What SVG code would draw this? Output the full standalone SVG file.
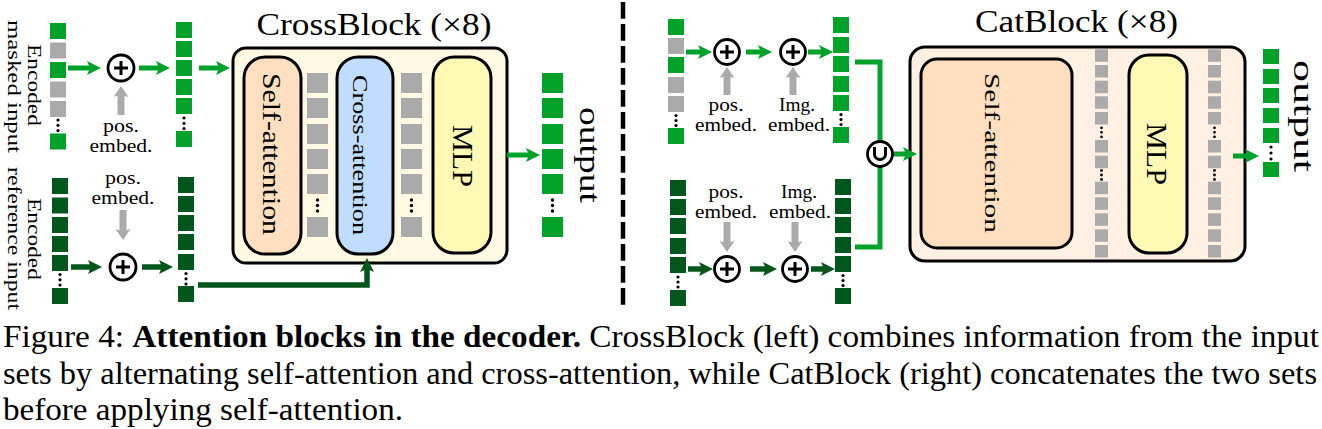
<svg xmlns="http://www.w3.org/2000/svg" width="1322" height="429" viewBox="0 0 1322 429">
<defs>
<style>
.g{fill:#00a22a}.dg{fill:#00561b}.gr{fill:#aaaaaa}.d{fill:#000}
.t{font-family:"Liberation Serif","Times New Roman",serif;fill:#000}
.s{font-size:18px;text-anchor:middle}
.box{stroke:#000;stroke-width:3}
.op{fill:#fff;stroke:#000;stroke-width:2.8}
.pl{stroke:#000;stroke-width:3;fill:none}
.cg{fill:none;stroke:#00a22a;stroke-width:5}
.cd{fill:none;stroke:#00561b;stroke-width:5.5}
.cgr{fill:none;stroke:#aaaaaa;stroke-width:7}
</style>
<marker id="ag" viewBox="0 0 14 14" markerUnits="userSpaceOnUse" markerWidth="14" markerHeight="14" refX="3" refY="7" orient="auto"><path d="M0,0 L14,7 L0,14 L3,7 Z" fill="#00a22a"/></marker>
<marker id="ad" viewBox="0 0 14 14" markerUnits="userSpaceOnUse" markerWidth="14" markerHeight="14" refX="3" refY="7" orient="auto"><path d="M0,0 L14,7 L0,14 L3,7 Z" fill="#00561b"/></marker>
<marker id="agr" viewBox="0 0 11 15" markerUnits="userSpaceOnUse" markerWidth="11" markerHeight="15" refX="2" refY="7.5" orient="auto"><path d="M0,0 L11,7.5 L0,15 L2,7.5 Z" fill="#aaaaaa"/></marker>
</defs>
<rect width="1322" height="429" fill="#fff"/>

<!-- divider -->
<line x1="623" y1="2" x2="623" y2="310" stroke="#000" stroke-width="4.5" stroke-dasharray="16.7 5.3"/>

<!-- LEFT: encoded masked input -->
<g id="masked-input">
<rect class="g" x="50" y="23" width="16" height="16"/>
<rect class="gr" x="50" y="42.5" width="16" height="16"/>
<rect class="g" x="50" y="62" width="16" height="16"/>
<rect class="gr" x="50" y="81.5" width="16" height="16"/>
<rect class="gr" x="50" y="101" width="16" height="16"/>
<circle class="d" cx="58" cy="120" r="1.6"/><circle class="d" cx="58" cy="125.3" r="1.6"/><circle class="d" cx="58" cy="130.6" r="1.6"/>
<rect class="g" x="50" y="133.5" width="16" height="16"/>
<text class="t" transform="translate(27.5,85) rotate(90)" font-size="18" text-anchor="middle" textLength="82" lengthAdjust="spacingAndGlyphs">Encoded</text>
<text class="t" transform="translate(7.5,86.5) rotate(90)" font-size="18" text-anchor="middle" textLength="133" lengthAdjust="spacingAndGlyphs">masked input</text>
</g>

<g id="masked-embedded">
<rect class="g" x="176" y="22" width="16" height="16"/>
<rect class="g" x="176" y="41" width="16" height="16"/>
<rect class="g" x="176" y="60" width="16" height="16"/>
<rect class="g" x="176" y="79" width="16" height="16"/>
<rect class="g" x="176" y="98" width="16" height="16"/>
<circle class="d" cx="184" cy="118" r="1.6"/><circle class="d" cx="184" cy="123.3" r="1.6"/><circle class="d" cx="184" cy="128.6" r="1.6"/>
<rect class="g" x="176" y="131" width="16" height="16"/>
</g>

<g id="pos-embed-1">
<text class="t s" x="121" y="132" textLength="36" lengthAdjust="spacingAndGlyphs">pos.</text>
<text class="t s" x="121" y="152" textLength="63" lengthAdjust="spacingAndGlyphs">embed.</text>
</g>

<!-- LEFT: encoded reference input -->
<g id="reference-input">
<rect class="dg" x="52" y="178" width="16" height="16"/>
<rect class="dg" x="52" y="197.5" width="16" height="16"/>
<rect class="dg" x="52" y="217" width="16" height="16"/>
<rect class="dg" x="52" y="236" width="16" height="16"/>
<rect class="dg" x="52" y="255" width="16" height="16"/>
<circle class="d" cx="60" cy="274.5" r="1.6"/><circle class="d" cx="60" cy="279.8" r="1.6"/><circle class="d" cx="60" cy="285" r="1.6"/>
<rect class="dg" x="52" y="288" width="16" height="16"/>
<text class="t" transform="translate(27.5,239) rotate(90)" font-size="18" text-anchor="middle" textLength="82" lengthAdjust="spacingAndGlyphs">Encoded</text>
<text class="t" transform="translate(7.5,238.5) rotate(90)" font-size="18" text-anchor="middle" textLength="143" lengthAdjust="spacingAndGlyphs">reference input</text>
</g>

<g id="reference-embedded">
<rect class="dg" x="178" y="177" width="16" height="16"/>
<rect class="dg" x="178" y="196" width="16" height="16"/>
<rect class="dg" x="178" y="215" width="16" height="16"/>
<rect class="dg" x="178" y="234" width="16" height="16"/>
<rect class="dg" x="178" y="254" width="16" height="16"/>
<circle class="d" cx="186" cy="273.5" r="1.6"/><circle class="d" cx="186" cy="278.8" r="1.6"/><circle class="d" cx="186" cy="284" r="1.6"/>
<rect class="dg" x="178" y="286" width="16" height="16"/>
</g>

<g id="pos-embed-2">
<text class="t s" x="123" y="184" textLength="36" lengthAdjust="spacingAndGlyphs">pos.</text>
<text class="t s" x="123" y="204" textLength="63" lengthAdjust="spacingAndGlyphs">embed.</text>
</g>

<!-- CrossBlock -->
<g id="crossblock">
<text class="t" x="374" y="35" font-size="32" text-anchor="middle" textLength="235" lengthAdjust="spacingAndGlyphs">CrossBlock (×8)</text>
<rect class="box" x="233" y="48" width="274" height="215" rx="13" fill="#fff9e3"/>
</g>
<g id="cb-self-attention">
<rect class="box" x="244" y="57" width="57" height="197" rx="21" fill="#ffdfbf"/>
<text class="t" transform="translate(263,154) rotate(90)" font-size="26" text-anchor="middle" textLength="162" lengthAdjust="spacingAndGlyphs">Self-attention</text>
</g>
<g id="cb-tokens-1">
<rect class="gr" x="307" y="73" width="21" height="20"/>
<rect class="gr" x="307" y="98" width="21" height="20"/>
<rect class="gr" x="307" y="124" width="21" height="20"/>
<rect class="gr" x="307" y="149" width="21" height="20"/>
<rect class="gr" x="307" y="174" width="21" height="20"/>
<circle class="d" cx="317.5" cy="200" r="1.7"/><circle class="d" cx="317.5" cy="205.5" r="1.7"/><circle class="d" cx="317.5" cy="211" r="1.7"/>
<rect class="gr" x="307" y="217" width="21" height="20"/>
</g>
<g id="cb-cross-attention">
<rect class="box" x="337" y="57" width="56" height="197" rx="21" fill="#c0ddff"/>
<text class="t" transform="translate(353,155) rotate(90)" font-size="22" text-anchor="middle" textLength="160" lengthAdjust="spacingAndGlyphs">Cross-attention</text>
</g>
<g id="cb-tokens-2">
<rect class="gr" x="401" y="73" width="21" height="20"/>
<rect class="gr" x="401" y="98" width="21" height="20"/>
<rect class="gr" x="401" y="124" width="21" height="20"/>
<rect class="gr" x="401" y="149" width="21" height="20"/>
<rect class="gr" x="401" y="174" width="21" height="20"/>
<circle class="d" cx="411.5" cy="200" r="1.7"/><circle class="d" cx="411.5" cy="205.5" r="1.7"/><circle class="d" cx="411.5" cy="211" r="1.7"/>
<rect class="gr" x="401" y="217" width="21" height="20"/>
</g>
<g id="cb-mlp">
<rect class="box" x="433" y="57" width="58" height="196" rx="21" fill="#fff9b5"/>
<text class="t" transform="translate(453,156) rotate(90)" font-size="30" text-anchor="middle" textLength="62" lengthAdjust="spacingAndGlyphs">MLP</text>
</g>
<g id="cb-output">
<rect class="g" x="542" y="73" width="21" height="20"/>
<rect class="g" x="542" y="98" width="21" height="20"/>
<rect class="g" x="542" y="124" width="21" height="20"/>
<rect class="g" x="542" y="149" width="21" height="20"/>
<rect class="g" x="542" y="174" width="21" height="20"/>
<circle class="d" cx="552.5" cy="200" r="1.7"/><circle class="d" cx="552.5" cy="205.5" r="1.7"/><circle class="d" cx="552.5" cy="211" r="1.7"/>
<rect class="g" x="542" y="217" width="21" height="20"/>
<text class="t" transform="translate(580,155) rotate(90)" font-size="30" text-anchor="middle" textLength="96" lengthAdjust="spacingAndGlyphs">output</text>
</g>

<!-- RIGHT -->
<g id="cat-masked-input">
<rect class="g" x="668" y="19" width="16" height="16"/>
<rect class="gr" x="668" y="38" width="16" height="16"/>
<rect class="g" x="668" y="57" width="16" height="16"/>
<rect class="gr" x="668" y="77" width="16" height="16"/>
<rect class="gr" x="668" y="96" width="16" height="16"/>
<circle class="d" cx="676" cy="115.5" r="1.6"/><circle class="d" cx="676" cy="120.5" r="1.6"/><circle class="d" cx="676" cy="125.5" r="1.6"/>
<rect class="g" x="668" y="128" width="16" height="16"/>
</g>
<g id="cat-masked-embedded">
<rect class="g" x="833" y="17" width="16" height="16"/>
<rect class="g" x="833" y="37" width="16" height="16"/>
<rect class="g" x="833" y="56" width="16" height="16"/>
<rect class="g" x="833" y="76" width="16" height="16"/>
<rect class="g" x="833" y="95" width="16" height="16"/>
<circle class="d" cx="841" cy="114.5" r="1.6"/><circle class="d" cx="841" cy="119.5" r="1.6"/><circle class="d" cx="841" cy="124.5" r="1.6"/>
<rect class="g" x="833" y="127" width="16" height="16"/>
</g>
<g id="cat-pos-embed-1">
<text class="t s" x="726" y="110.5" textLength="35" lengthAdjust="spacingAndGlyphs">pos.</text>
<text class="t s" x="726" y="130.5" textLength="62" lengthAdjust="spacingAndGlyphs">embed.</text>
</g>
<g id="cat-img-embed-1">
<text class="t s" x="797" y="110.5" textLength="36" lengthAdjust="spacingAndGlyphs">Img.</text>
<text class="t s" x="799" y="130.5" textLength="62" lengthAdjust="spacingAndGlyphs">embed.</text>
</g>
<g id="cat-reference-input">
<rect class="dg" x="670" y="180" width="16" height="16"/>
<rect class="dg" x="670" y="199" width="16" height="16"/>
<rect class="dg" x="670" y="218" width="16" height="16"/>
<rect class="dg" x="670" y="238" width="16" height="16"/>
<rect class="dg" x="670" y="257" width="16" height="16"/>
<circle class="d" cx="678" cy="277" r="1.6"/><circle class="d" cx="678" cy="282" r="1.6"/><circle class="d" cx="678" cy="287" r="1.6"/>
<rect class="dg" x="670" y="290" width="16" height="16"/>
</g>
<g id="cat-reference-embedded">
<rect class="dg" x="835" y="179" width="16" height="16"/>
<rect class="dg" x="835" y="198" width="16" height="16"/>
<rect class="dg" x="835" y="217" width="16" height="16"/>
<rect class="dg" x="835" y="237" width="16" height="16"/>
<rect class="dg" x="835" y="256" width="16" height="16"/>
<circle class="d" cx="843" cy="275.5" r="1.6"/><circle class="d" cx="843" cy="280.5" r="1.6"/><circle class="d" cx="843" cy="285.5" r="1.6"/>
<rect class="dg" x="835" y="288" width="16" height="16"/>
</g>
<g id="cat-pos-embed-2">
<text class="t s" x="726" y="198" textLength="35" lengthAdjust="spacingAndGlyphs">pos.</text>
<text class="t s" x="726" y="218" textLength="62" lengthAdjust="spacingAndGlyphs">embed.</text>
</g>
<g id="cat-img-embed-2">
<text class="t s" x="799" y="198" textLength="36" lengthAdjust="spacingAndGlyphs">Img.</text>
<text class="t s" x="800" y="218" textLength="62" lengthAdjust="spacingAndGlyphs">embed.</text>
</g>

<!-- CatBlock -->
<g id="catblock">
<text class="t" x="1076.5" y="32" font-size="32" text-anchor="middle" textLength="203" lengthAdjust="spacingAndGlyphs">CatBlock (×8)</text>
<rect class="box" x="910" y="47" width="335" height="214" rx="15" fill="#fff0e3"/>
</g>
<g id="cat-self-attention">
<rect class="box" x="921" y="59" width="151" height="189" rx="16" fill="#ffdfbf"/>
<text class="t" transform="translate(985,153) rotate(90)" font-size="22" text-anchor="middle" textLength="160" lengthAdjust="spacingAndGlyphs">Self-attention</text>
</g>
<g id="cat-tokens-1">
<rect class="gr" x="1095" y="49.3" width="13" height="12.5"/>
<rect class="gr" x="1095" y="65" width="13" height="12.5"/>
<rect class="gr" x="1095" y="80.7" width="13" height="12.5"/>
<rect class="gr" x="1095" y="96.3" width="13" height="12.5"/>
<rect class="gr" x="1095" y="112" width="13" height="12.5"/>
<circle class="d" cx="1101.5" cy="127.8" r="1.4"/><circle class="d" cx="1101.5" cy="132.3" r="1.4"/><circle class="d" cx="1101.5" cy="136.8" r="1.4"/>
<rect class="gr" x="1095" y="140" width="13" height="12.5"/>
<rect class="gr" x="1095" y="155.7" width="13" height="12.5"/>
<circle class="d" cx="1101.5" cy="170.5" r="1.4"/><circle class="d" cx="1101.5" cy="175" r="1.4"/><circle class="d" cx="1101.5" cy="179.5" r="1.4"/>
<rect class="gr" x="1095" y="181.7" width="13" height="12.5"/>
<rect class="gr" x="1095" y="197.3" width="13" height="12.5"/>
<rect class="gr" x="1095" y="213.3" width="13" height="12.5"/>
<rect class="gr" x="1095" y="229.3" width="13" height="12.5"/>
<rect class="gr" x="1095" y="245" width="13" height="12.5"/>
</g>
<g id="cat-mlp">
<rect class="box" x="1129" y="55" width="58" height="198" rx="20" fill="#fff9b5"/>
<text class="t" transform="translate(1147,154) rotate(90)" font-size="30" text-anchor="middle" textLength="62" lengthAdjust="spacingAndGlyphs">MLP</text>
</g>
<g id="cat-tokens-2">
<rect class="gr" x="1208" y="49.3" width="13" height="12.5"/>
<rect class="gr" x="1208" y="65" width="13" height="12.5"/>
<rect class="gr" x="1208" y="80.7" width="13" height="12.5"/>
<rect class="gr" x="1208" y="96.3" width="13" height="12.5"/>
<rect class="gr" x="1208" y="112" width="13" height="12.5"/>
<circle class="d" cx="1214.5" cy="127.8" r="1.4"/><circle class="d" cx="1214.5" cy="132.3" r="1.4"/><circle class="d" cx="1214.5" cy="136.8" r="1.4"/>
<rect class="gr" x="1208" y="140" width="13" height="12.5"/>
<rect class="gr" x="1208" y="155.7" width="13" height="12.5"/>
<circle class="d" cx="1214.5" cy="170.5" r="1.4"/><circle class="d" cx="1214.5" cy="175" r="1.4"/><circle class="d" cx="1214.5" cy="179.5" r="1.4"/>
<rect class="gr" x="1208" y="181.7" width="13" height="12.5"/>
<rect class="gr" x="1208" y="197.3" width="13" height="12.5"/>
<rect class="gr" x="1208" y="213.3" width="13" height="12.5"/>
<rect class="gr" x="1208" y="229.3" width="13" height="12.5"/>
<rect class="gr" x="1208" y="245" width="13" height="12.5"/>
</g>
<g id="cat-output">
<rect class="g" x="1263" y="49" width="16" height="15"/>
<rect class="g" x="1263" y="69" width="16" height="15"/>
<rect class="g" x="1263" y="88" width="16" height="15"/>
<rect class="g" x="1263" y="108" width="16" height="15"/>
<rect class="g" x="1263" y="128" width="16" height="15"/>
<circle class="d" cx="1271" cy="147" r="1.6"/><circle class="d" cx="1271" cy="153" r="1.6"/><circle class="d" cx="1271" cy="159" r="1.6"/>
<rect class="g" x="1263" y="162" width="16" height="15"/>
<text class="t" transform="translate(1294,116) rotate(90)" font-size="30" text-anchor="middle" textLength="112" lengthAdjust="spacingAndGlyphs">output</text>
</g>

<!-- connectors -->
<g id="connectors">
<path class="cg" d="M68,68 H90" marker-end="url(#ag)"/>
<path class="cg" d="M139,68 H159" marker-end="url(#ag)"/>
<path class="cg" d="M199,68 H219" marker-end="url(#ag)"/>
<path class="cgr" d="M121,115 V95" marker-end="url(#agr)"/>
<path class="cd" d="M71,267 H91" marker-end="url(#ad)"/>
<path class="cd" d="M142,267 H162" marker-end="url(#ad)"/>
<path class="cgr" d="M123,210 V231" marker-end="url(#agr)"/>
<path class="cd" d="M198,285 H367 V269" marker-end="url(#ad)"/>
<path class="cg" d="M507,155 H529" marker-end="url(#ag)"/>
<path class="cg" d="M686,52 H701" marker-end="url(#ag)"/>
<path class="cg" d="M746,52 H761" marker-end="url(#ag)"/>
<path class="cg" d="M808,52 H822" marker-end="url(#ag)"/>
<path class="cgr" d="M727,95 V76" marker-end="url(#agr)"/>
<path class="cgr" d="M793,95 V76" marker-end="url(#agr)"/>
<path class="cd" d="M688,269 H702" marker-end="url(#ad)"/>
<path class="cd" d="M750,269 H766" marker-end="url(#ad)"/>
<path class="cd" d="M811,269 H824" marker-end="url(#ad)"/>
<path class="cgr" d="M727,222 V243" marker-end="url(#agr)"/>
<path class="cgr" d="M795,222 V243" marker-end="url(#agr)"/>
<path class="cg" d="M855,62 H880 V247 H855"/>
<path class="cg" d="M893,154 H906" marker-end="url(#ag)"/>
<path class="cg" d="M1233,156 H1248" marker-end="url(#ag)"/>
</g>

<!-- operators -->
<g id="add-1"><circle class="op" cx="121" cy="68" r="13"/><path class="pl" d="M114,68 H128 M121,61 V75"/></g>
<g id="add-2"><circle class="op" cx="123" cy="267" r="13"/><path class="pl" d="M116,267 H130 M123,260 V274"/></g>
<g id="add-3"><circle class="op" cx="727" cy="52" r="12.5"/><path class="pl" d="M720,52 H734 M727,45 V59"/></g>
<g id="add-4"><circle class="op" cx="793" cy="52" r="12.5"/><path class="pl" d="M786,52 H800 M793,45 V59"/></g>
<g id="add-5"><circle class="op" cx="727" cy="269" r="12.5"/><path class="pl" d="M720,269 H734 M727,262 V276"/></g>
<g id="add-6"><circle class="op" cx="795" cy="269" r="12.5"/><path class="pl" d="M788,269 H802 M795,262 V276"/></g>
<g id="union"><circle class="op" cx="880" cy="154" r="12.5"/><path class="pl" stroke-width="2.5" d="M874.5,147 V154 A5.5,5.5 0 0 0 885.5,154 V147"/></g>

<!-- caption -->
<g id="caption" class="t" font-size="32">
<text x="3" y="347" textLength="1316" lengthAdjust="spacingAndGlyphs">Figure 4: <tspan font-weight="bold">Attention blocks in the decoder.</tspan> CrossBlock (left) combines information from the input</text>
<text x="3" y="383.5" textLength="1314" lengthAdjust="spacingAndGlyphs">sets by alternating self-attention and cross-attention, while CatBlock (right) concatenates the two sets</text>
<text x="3" y="419.5" textLength="400" lengthAdjust="spacingAndGlyphs">before applying self-attention.</text>
</g>
</svg>
